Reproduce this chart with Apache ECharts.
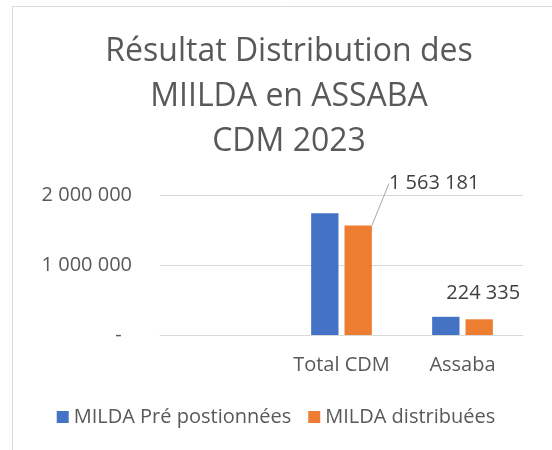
<!DOCTYPE html>
<html>
<head>
<meta charset="utf-8">
<script src="https://cdn.jsdelivr.net/npm/echarts@6/dist/echarts.min.js"></script>
<style>html,body{margin:0;padding:0;background:#fff;}#c{width:552px;height:450px;}</style>
</head>
<body>
<div id="c"></div>
<script>
var titleLines = ['Résultat Distribution des', 'MIILDA en ASSABA', 'CDM 2023'];
var categories = ['', 'Total CDM', 'Assaba'];
var seriesNames = ['MILDA Pré postionnées', 'MILDA distribuées'];
var prePositioned = ['-', 1740000, 260000];
var distributed = ['-', 1563181, 224335];
var yTicks = [0, 1000000, 2000000];

function fmt(v) {
  if (v === 0) return '-  ';
  return String(Math.round(v)).replace(/\B(?=(\d{3})+(?!\d))/g, ' ');
}
var FONT = 'Open Sans';
var chart = echarts.init(document.getElementById('c'));
chart.setOption({
  backgroundColor: '#fff',
  animation: false,
  textStyle: { fontFamily: FONT },
  graphic: [{
    type: 'rect', shape: { x: 12.5, y: 6.5, width: 600, height: 500 },
    style: { fill: 'none', stroke: '#d9d9d9', lineWidth: 1 }, silent: true
  }],
  title: {
    text: titleLines.join('\n'),
    left: 284, top: 24, textAlign: 'center',
    textStyle: { fontFamily: FONT, fontSize: 32, fontWeight: 'normal', color: '#595959', lineHeight: 45 }
  },
  legend: {
    data: seriesNames,
    bottom: 18, left: 'center',
    icon: 'rect', itemWidth: 12, itemHeight: 12, itemGap: 17,
    textStyle: { fontFamily: FONT, fontSize: 20, color: '#595959' }
  },
  grid: { left: 160, right: 29, top: 195, bottom: 115, containLabel: false },
  xAxis: {
    type: 'category', data: categories,
    axisLine: { lineStyle: { color: '#d9d9d9' } },
    axisTick: { show: false },
    axisLabel: { fontFamily: FONT, fontSize: 20, color: '#595959', margin: 20, interval: 0 }
  },
  yAxis: {
    type: 'value', min: yTicks[0], max: yTicks[yTicks.length - 1], interval: yTicks[1] - yTicks[0],
    axisLine: { show: false }, axisTick: { show: false },
    splitLine: { lineStyle: { color: '#d9d9d9' } },
    axisLabel: { fontFamily: FONT, fontSize: 20, color: '#595959', margin: 28, formatter: fmt }
  },
  series: [{
    name: seriesNames[0], type: 'bar', data: prePositioned,
    barWidth: '22.6%', barGap: '22%',
    itemStyle: { color: '#4472C4' }
  }, {
    name: seriesNames[1], type: 'bar', data: distributed.map(function (v, i) {
      if (i === 2) return { value: v, labelLine: { show: false } };
      return v;
    }),
    barWidth: '22.6%',
    itemStyle: { color: '#ED7D31' },
    label: {
      show: true, position: 'top', distance: 5,
      fontFamily: FONT, fontSize: 20, color: '#404040',
      formatter: function (p) { return fmt(p.value); }
    },
    labelLine: { show: true, lineStyle: { color: '#a6a6a6', width: 1 } },
    labelLayout: function (p) {
      if (p.dataIndex === 1) return { dx: 76, dy: -27 };
      return { dx: 4, dy: -11 };
    }
  }]
});
</script>
</body>
</html>
